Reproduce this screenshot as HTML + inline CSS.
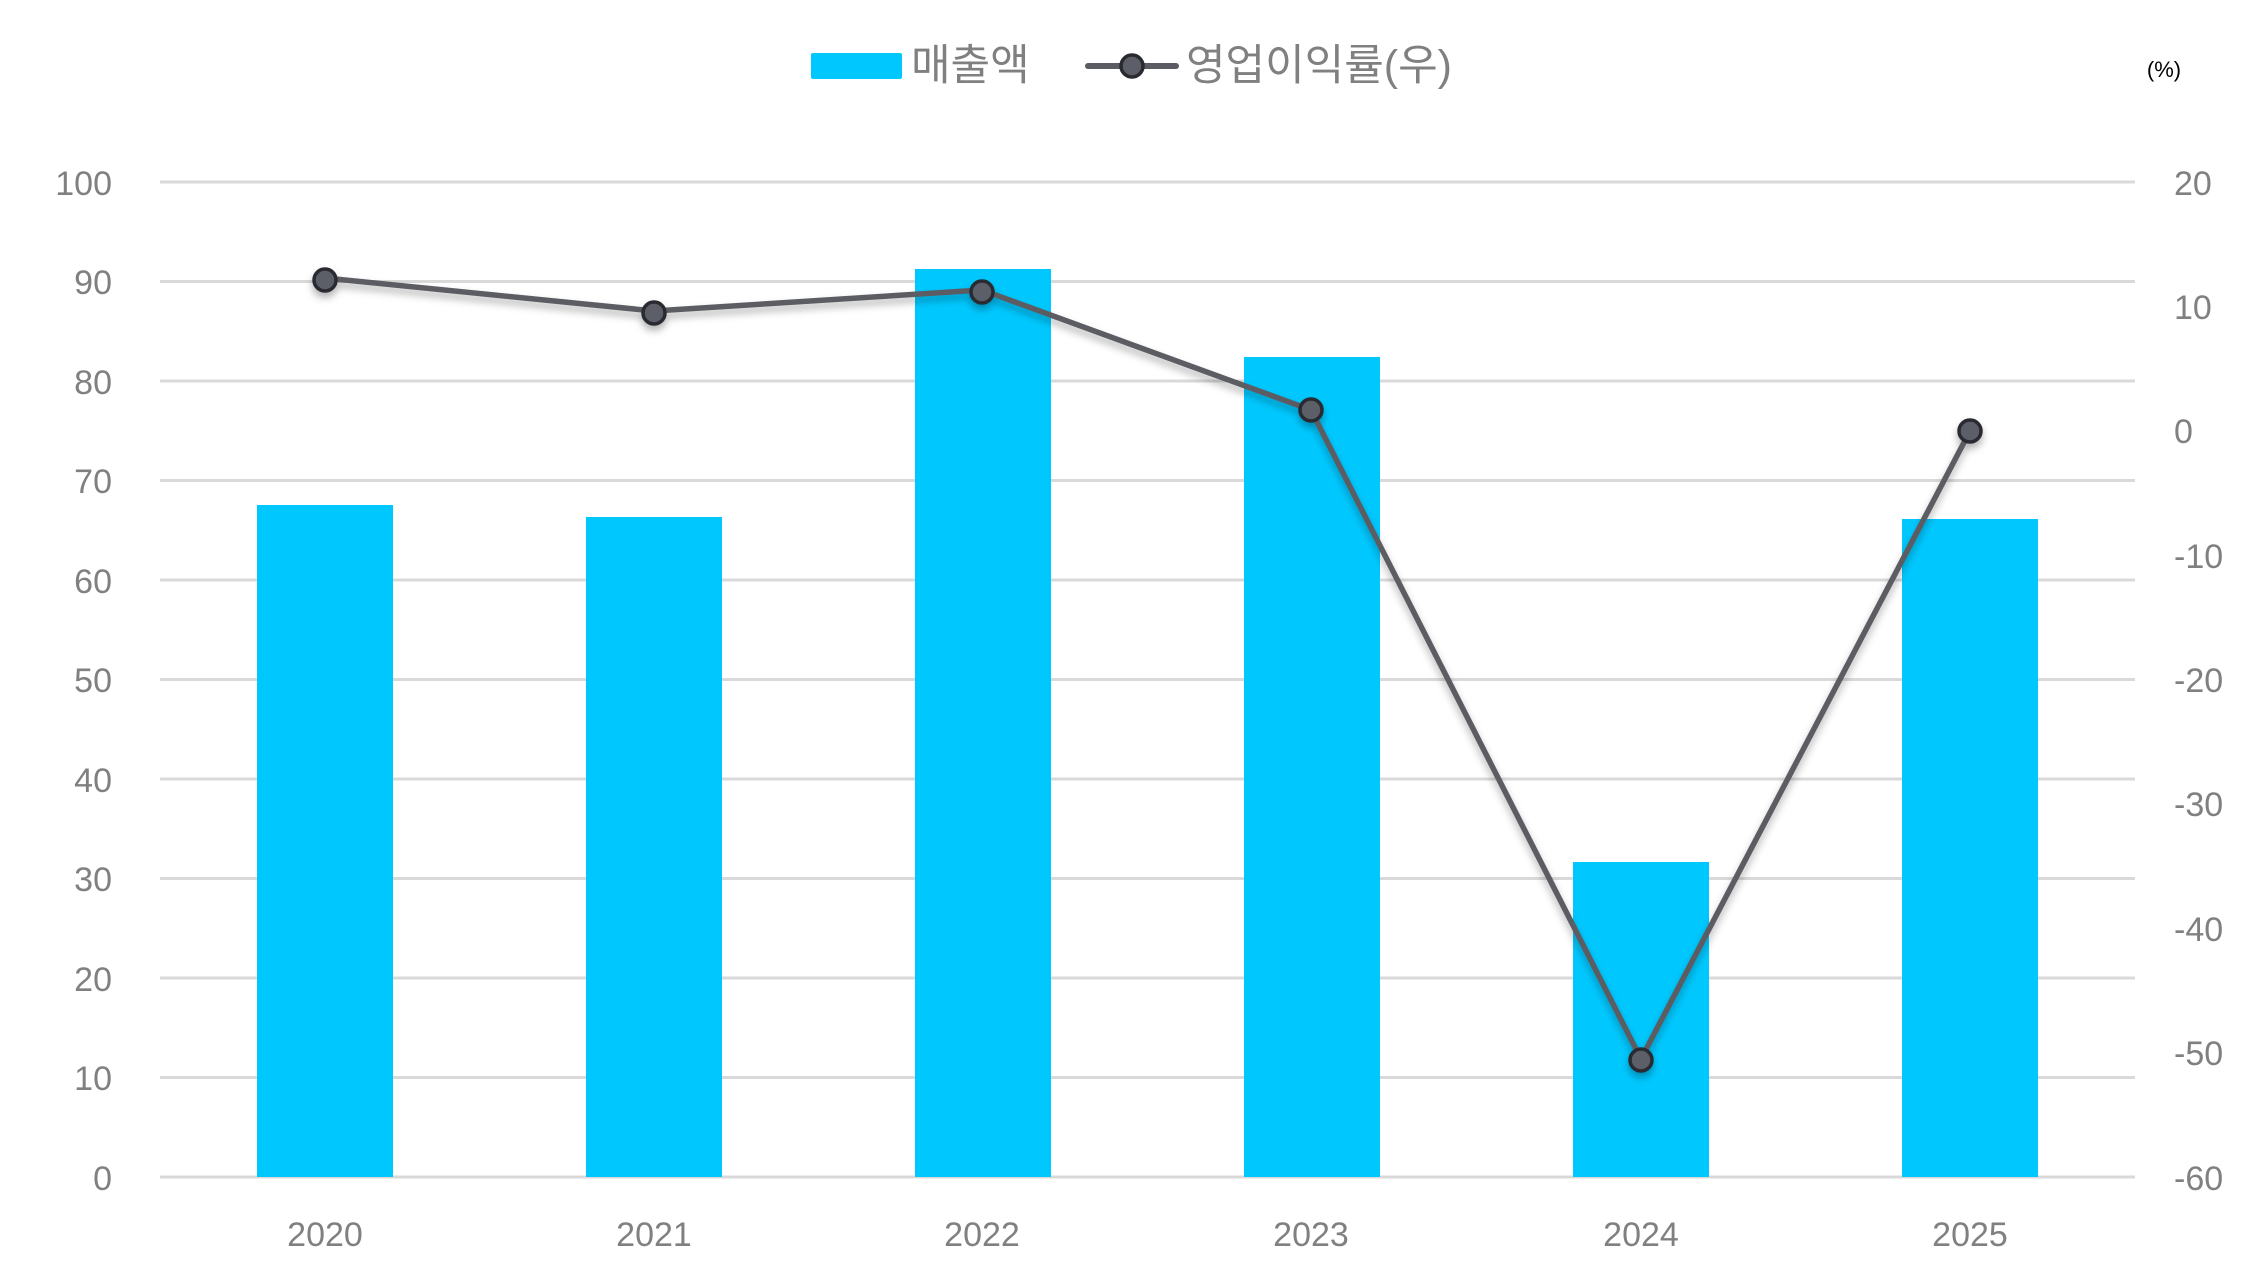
<!DOCTYPE html>
<html><head><meta charset="utf-8"><style>html,body{margin:0;padding:0;background:#fff}svg{display:block}</style></head>
<body>
<svg width="2255" height="1262" viewBox="0 0 2255 1262" xmlns="http://www.w3.org/2000/svg" font-family="'Liberation Sans','Noto Sans CJK KR',sans-serif">
<defs><filter id="sh" x="-20%" y="-20%" width="140%" height="140%"><feDropShadow dx="0" dy="5" stdDeviation="4" flood-color="#000" flood-opacity="0.3"/></filter></defs>
<g transform="translate(0,3)">
<g stroke="#d9d9d9" stroke-width="3">
<line x1="160" x2="2135" y1="179" y2="179"/><line x1="160" x2="2135" y1="278.5" y2="278.5"/>
<line x1="160" x2="2135" y1="378" y2="378"/><line x1="160" x2="2135" y1="477.5" y2="477.5"/>
<line x1="160" x2="2135" y1="577" y2="577"/><line x1="160" x2="2135" y1="676.5" y2="676.5"/>
<line x1="160" x2="2135" y1="776" y2="776"/><line x1="160" x2="2135" y1="875.5" y2="875.5"/>
<line x1="160" x2="2135" y1="975" y2="975"/><line x1="160" x2="2135" y1="1074.5" y2="1074.5"/>
<line x1="160" x2="2135" y1="1174" y2="1174"/>
</g>
<g fill="#00c8ff">
<rect x="257" y="502" width="136" height="672"/>
<rect x="586" y="514" width="136" height="660"/>
<rect x="915" y="266" width="136" height="908"/>
<rect x="1244" y="354" width="136" height="820"/>
<rect x="1573" y="859" width="136" height="315"/>
<rect x="1902" y="516" width="136" height="658"/>
</g>
<g filter="url(#sh)">
<polyline points="325,275 654,308 982,287 1311,407 1641,1056 1970,428" fill="none" stroke="#5b5c63" stroke-width="5.5" stroke-linejoin="round"/>
<g fill="#5d5f68" stroke="#2a2b30" stroke-width="3.5">
<circle cx="325" cy="277" r="11"/><circle cx="654" cy="310" r="11"/><circle cx="982" cy="289" r="11"/>
<circle cx="1311" cy="407" r="11"/><circle cx="1641" cy="1057" r="11"/><circle cx="1970" cy="428" r="11"/>
</g></g>
<g fill="#808080" font-size="34" text-anchor="end">
<text x="112" y="192">100</text><text x="112" y="291">90</text><text x="112" y="391">80</text>
<text x="112" y="490">70</text><text x="112" y="590">60</text><text x="112" y="689">50</text>
<text x="112" y="789">40</text><text x="112" y="888">30</text><text x="112" y="988">20</text>
<text x="112" y="1087">10</text><text x="112" y="1187">0</text>
</g>
<g fill="#808080" font-size="34" text-anchor="start">
<text x="2174" y="192">20</text><text x="2174" y="316">10</text><text x="2174" y="440">0</text>
<text x="2174" y="565">-10</text><text x="2174" y="689">-20</text><text x="2174" y="813">-30</text>
<text x="2174" y="938">-40</text><text x="2174" y="1062">-50</text><text x="2174" y="1187">-60</text>
</g>
<g fill="#808080" font-size="34" text-anchor="middle">
<text x="325" y="1243">2020</text><text x="654" y="1243">2021</text><text x="982" y="1243">2022</text>
<text x="1311" y="1243">2023</text><text x="1641" y="1243">2024</text><text x="1970" y="1243">2025</text>
</g>
</g>
<rect x="811" y="53" width="91" height="26" rx="2" fill="#00c8ff"/>
<text x="911" y="80" font-size="43" fill="#808080">매출액</text>
<line x1="1088" y1="66" x2="1176" y2="66" stroke="#5b5c63" stroke-width="6" stroke-linecap="round"/>
<circle cx="1132" cy="66" r="11" fill="#5d5f68" stroke="#2a2b30" stroke-width="3.5"/>
<text x="1186" y="80" font-size="43" fill="#808080">영업이익률(우)</text>
<text x="2164" y="77" font-size="22" fill="#000" text-anchor="middle">(%)</text>
</svg>
</body></html>
